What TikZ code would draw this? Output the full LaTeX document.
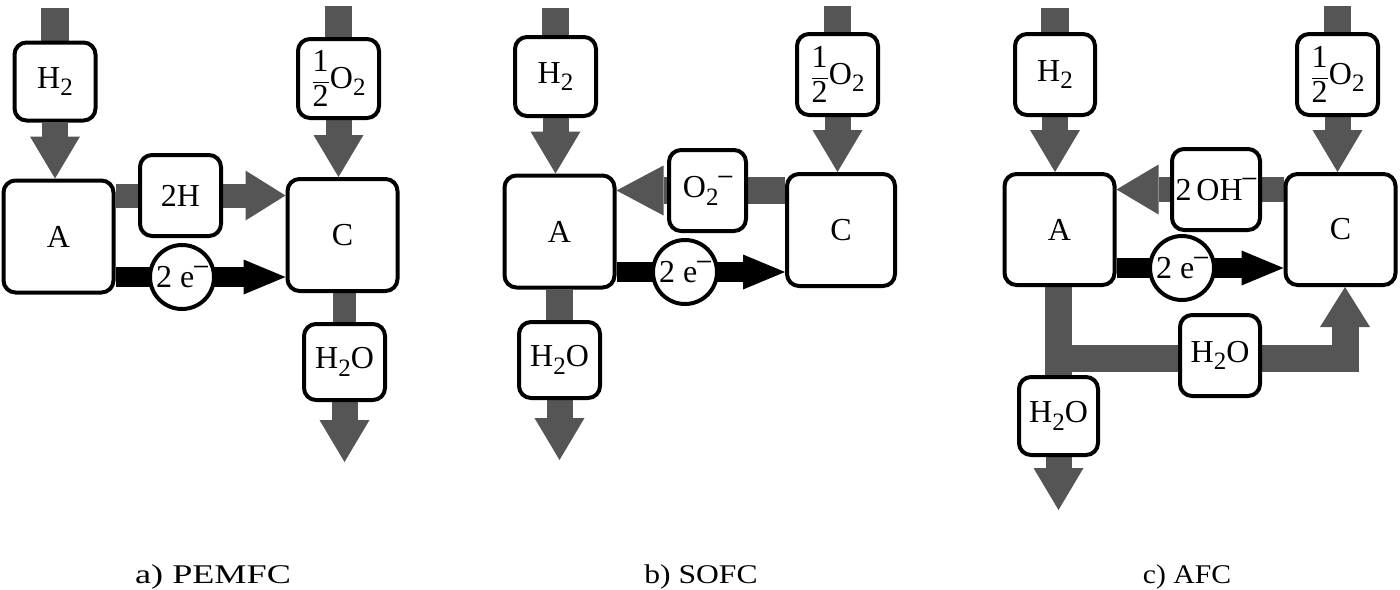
\documentclass[tikz,border=0pt]{standalone}
\usepackage{amsmath}
\usepackage{fontspec}
\setmainfont{Liberation Serif}
\usetikzlibrary{arrows.meta}
\definecolor{ag}{RGB}{85,85,85}
\newcommand{\lbl}{\fontsize{32}{38}\selectfont}
\newcommand{\caplbl}{\fontsize{27}{32}\selectfont}
\newcommand{\subtwo}{\raisebox{-0.24em}{\fontsize{25}{30}\selectfont 2}}
\newcommand{\minussup}{\raisebox{0.42em}{\scalebox{0.85}[1]{\textendash}}}
\newcommand{\halfOtwo}{$\dfrac{\text{1}}{\text{2}}$O\subtwo}
\pgfdeclarelayer{bg}
\pgfsetlayers{bg,main}
\tikzset{
  box/.style={draw=black, line width=4pt, fill=white, rounded corners=12pt, inner sep=0pt, font=\lbl},
  smallbox/.style={box, minimum width=81pt, minimum height=78pt},
  bigbox/.style={box, minimum width=110pt, minimum height=112pt},
  ion/.style={circle, draw=black, line width=4pt, fill=white, inner sep=0pt, minimum size=64pt, font=\lbl},
  stem/.style={draw=ag, line width=27pt, line cap=butt},
  garrow/.style={stem, -{Triangle[width=50pt,length=42pt,line width=0pt]}},
  barrow/.style={draw=black, line width=20pt, line cap=butt, -{Triangle[width=35pt,length=42pt,line width=0pt]}},
  caption/.style={font=\caplbl, anchor=base, inner sep=0pt}
}
\begin{document}
\begin{tikzpicture}[x=1pt, y=-1pt]
\useasboundingbox (0,0) rectangle (1400,589);

% ---------- a) PEMFC ----------
\node[smallbox] (Ha) at (55,81.5) {H\subtwo};
\node[bigbox] (Aa) at (58.5,236.5) {A};
\node[smallbox, minimum width=81pt, minimum height=81pt] (HHa) at (180.5,195.5) {2H};
\node[ion] (ea) at (182,277) {2 e\minussup};
\node[bigbox] (Ca) at (342.5,235) {C};
\node[smallbox, minimum height=79pt] (Oa) at (338.5,78.5) {\halfOtwo};
\node[smallbox, minimum height=76pt] (Wa) at (344.5,362) {H\subtwo O};
\coordinate (ta1) at (55,8);
\coordinate (ta2) at (338.5,6);
\coordinate (tw) at (344.5,462);

% ---------- b) SOFC ----------
\node[smallbox, minimum height=79pt] (Hb) at (555.5,76.5) {H\subtwo};
\node[bigbox] (Ab) at (559.5,231.5) {A};
\node[smallbox, minimum width=77pt, minimum height=81pt] (OMb) at (707.5,190.5) {O\subtwo\minussup};
\node[ion] (eb) at (685,272) {2 e\minussup};
\node[bigbox, minimum width=108pt] (Cb) at (841,230) {C};
\node[smallbox, minimum height=81pt] (Ob) at (837.5,74.5) {\halfOtwo};
\node[smallbox, minimum height=76pt] (Wb) at (559.5,360) {H\subtwo O};
\coordinate (tb1) at (555.5,8);
\coordinate (tb2) at (837.5,6);
\coordinate (tb) at (559.5,460);

% ---------- c) AFC ----------
\node[smallbox, minimum width=80pt, minimum height=81pt] (Hc) at (1055,74.5) {H\subtwo};
\node[bigbox, minimum height=111pt] (Ac) at (1059.5,229.5) {A};
\node[smallbox, minimum width=88pt, minimum height=81pt] (OHc) at (1216,189.5) {2\hspace{0.15em}OH\minussup};
\node[ion] (ec) at (1182,268) {2 e\minussup};
\node[bigbox, minimum height=111pt] (Cc) at (1340.5,229.5) {C};
\node[smallbox, minimum height=81pt] (Oc) at (1337.5,74.5) {\halfOtwo};
\node[smallbox, minimum width=80pt, minimum height=81pt] (Wm) at (1220,355.5) {H\subtwo O};
\node[smallbox, minimum width=79pt, minimum height=78pt] (Wc) at (1058.5,416) {H\subtwo O};
\coordinate (tc1) at (1055,8);
\coordinate (tc2) at (1337.5,6);
\coordinate (tc) at (1058.5,510);
\coordinate (jc) at (1058.5,358.5);
\coordinate (kc) at (1345,358.5);

% ---------- captions ----------
\node[caption] (capa) at (213,583) {\scalebox{1.34}[1]{a) PEMFC}};
\node[caption] (capb) at (701,583) {\scalebox{1.17}[1]{b) SOFC}};
\node[caption] (capc) at (1187,583) {\scalebox{1.1}[1]{c) AFC}};

\begin{pgfonlayer}{bg}
  % a
  \draw[stem, line width=28pt] (ta1) -- (Ha.north);
  \draw[garrow, line width=26pt] (Ha.south) -- (Ha.south |- Aa.north);
  \draw[garrow, line width=24pt, -{Triangle[width=50pt,length=40pt,line width=0pt]}] (Aa.east |- HHa) -- (Ca.west |- HHa);
  \draw[barrow] (Aa.east |- ea) -- (Ca.west |- ea);
  \draw[stem] (ta2) -- (Oa.north);
  \draw[garrow, line width=26pt] (Oa.south) -- (Oa.south |- Ca.north);
  \draw[stem, line width=23pt] (Ca.south -| Wa) -- (Wa.north);
  \draw[garrow, line width=26pt] (Wa.south) -- (tw);
  % b
  \draw[stem] (tb1) -- (Hb.north);
  \draw[garrow, line width=26pt] (Hb.south) -- (Hb.south |- Ab.north);
  \draw[garrow, -{Triangle[width=50pt,length=47pt,line width=0pt]}] (Cb.west |- OMb) -- (Ab.east |- OMb);
  \draw[barrow] (Ab.east |- eb) -- (Cb.west |- eb);
  \draw[stem] (tb2) -- (Ob.north);
  \draw[garrow, line width=26pt] (Ob.south) -- (Ob.south |- Cb.north);
  \draw[stem] (Ab.south -| Wb) -- (Wb.north);
  \draw[garrow, line width=26pt] (Wb.south) -- (tb);
  % c
  \draw[stem, line width=28pt] (tc1) -- (Hc.north);
  \draw[garrow, line width=26pt] (Hc.south) -- (Hc.south |- Ac.north);
  \draw[garrow, line width=25pt] (Cc.west |- OHc) -- (Ac.east |- OHc);
  \draw[barrow] (Ac.east |- ec) -- (Cc.west |- ec);
  \draw[stem] (tc2) -- (Oc.north);
  \draw[garrow, line width=26pt] (Oc.south) -- (Oc.south |- Cc.north);
  \draw[stem] (Ac.south -| Wc) -- (Wc.north);
  \draw[garrow, line width=26pt] (Wc.south) -- (tc);
  \draw[garrow, line join=miter, -{Triangle[width=50pt,length=40pt,line width=0pt]}] (jc) -- (kc) -- (kc |- Cc.south);
\end{pgfonlayer}
\end{tikzpicture}
\end{document}
